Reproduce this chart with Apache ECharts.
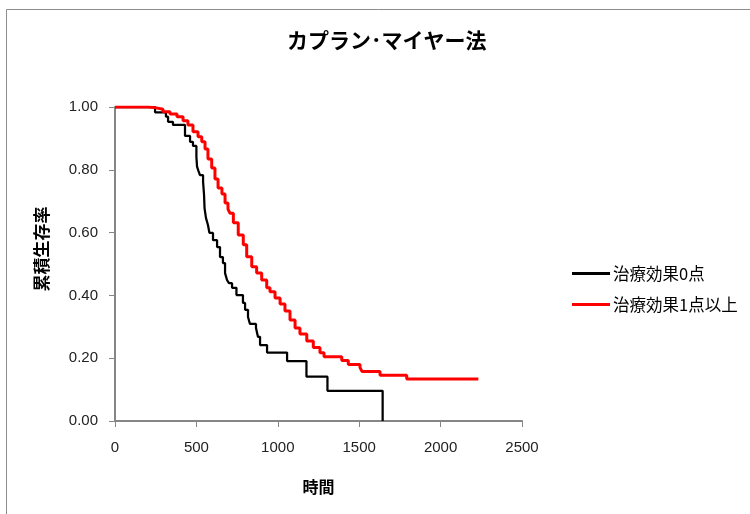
<!DOCTYPE html>
<html>
<head>
<meta charset="utf-8">
<script src="https://cdn.jsdelivr.net/npm/echarts@6/dist/echarts.min.js"></script>
<style>
  html, body { margin: 0; padding: 0; background: #fff; }
  #chart { width: 750px; height: 514px; }
</style>
</head>
<body>
<div id="chart"></div>
<script>
// Kaplan–Meier survival estimates: event times and survival after each event
const group0Times = [0, 246, 313, 326, 356, 430, 461, 479, 500, 504, 513, 522, 541, 547, 550, 559, 571, 580, 602, 627, 645, 663, 676, 688, 700, 719, 746, 786, 799, 817, 829, 866, 878, 891, 934, 1057, 1176, 1305, 1644];
const group0Surv  = [1.000, 0.983, 0.969, 0.953, 0.943, 0.908, 0.889, 0.876, 0.841, 0.810, 0.796, 0.783, 0.762, 0.720, 0.678, 0.646, 0.624, 0.599, 0.576, 0.554, 0.522, 0.503, 0.471, 0.449, 0.439, 0.424, 0.401, 0.376, 0.354, 0.331, 0.309, 0.296, 0.268, 0.242, 0.218, 0.191, 0.141, 0.096, 0.000];

const group1Times = [0, 203, 246, 295, 338, 381, 418, 448, 479, 510, 533, 553, 571, 594, 614, 633, 657, 676, 694, 706, 727, 757, 788, 809, 840, 870, 901, 932, 952, 983, 1014, 1044, 1075, 1106, 1136, 1178, 1218, 1259, 1284, 1393, 1433, 1505, 1517, 1628, 1792, 2232];
const group1Surv  = [1.000, 0.998, 0.993, 0.985, 0.978, 0.969, 0.956, 0.943, 0.921, 0.905, 0.889, 0.866, 0.834, 0.806, 0.771, 0.742, 0.723, 0.694, 0.675, 0.662, 0.631, 0.592, 0.561, 0.523, 0.491, 0.471, 0.449, 0.424, 0.412, 0.392, 0.373, 0.350, 0.322, 0.296, 0.277, 0.255, 0.234, 0.217, 0.205, 0.193, 0.180, 0.170, 0.158, 0.146, 0.134, 0.134];

const xTicks = { min: 0, max: 2500, step: 500 };
const yTicks = { min: 0, max: 1, step: 0.2 };

const seriesNames = ['治療効果0点', '治療効果1点以上'];

function pairs(ts, ss) { return ts.map((t, i) => [t, ss[i]]); }

const chart = echarts.init(document.getElementById('chart'), null, { renderer: 'canvas' });

const axisGray = '#868686';
const labelFont = '"Liberation Sans", Arial, sans-serif';
const jpFont = '"Noto Sans CJK JP", sans-serif';

chart.setOption({
  backgroundColor: '#ffffff',
  animation: false,
  graphic: [{
    type: 'rect',
    shape: { x: 6.5, y: 9.5, width: 900, height: 700 },
    style: { fill: 'none', stroke: '#8c8c8c', lineWidth: 1 },
    silent: true,
    z: -10
  }],
  title: {
    text: 'カプラン･マイヤー法',
    left: 282,
    top: 25,
    textStyle: { fontFamily: jpFont, fontWeight: 'bold', fontSize: 21, color: '#000' }
  },
  legend: {
    orient: 'vertical',
    left: 567,
    top: 258,
    icon: 'rect',
    itemWidth: 38,
    itemHeight: 3,
    itemGap: 10,
    textStyle: { fontFamily: jpFont, fontSize: 16.5, color: '#000', lineHeight: 21, padding: [0, 0, 0, -2] },
    data: seriesNames
  },
  grid: { left: 115, right: 228, top: 107, bottom: 93, containLabel: false },
  xAxis: {
    type: 'value',
    min: xTicks.min, max: xTicks.max, interval: xTicks.step,
    name: '時間',
    nameLocation: 'middle',
    nameGap: 58,
    nameTextStyle: { fontFamily: jpFont, fontWeight: 'bold', fontSize: 16, color: '#000' },
    axisLine: { show: true, lineStyle: { color: axisGray, width: 2 } },
    axisTick: { show: true, inside: false, length: 6, lineStyle: { color: axisGray, width: 1 } },
    axisLabel: { fontFamily: labelFont, fontSize: 15, color: '#222', margin: 19, formatter: v => String(v) },
    splitLine: { show: false }
  },
  yAxis: {
    type: 'value',
    min: yTicks.min, max: yTicks.max, interval: yTicks.step,
    name: '累積生存率',
    nameLocation: 'middle',
    nameRotate: 90,
    nameGap: 65,
    nameTextStyle: { fontFamily: jpFont, fontWeight: 'bold', fontSize: 17, color: '#000', padding: [0, 0, 0, 30] },
    axisLine: { show: true, onZero: false, lineStyle: { color: axisGray, width: 2 } },
    axisTick: { show: true, inside: false, length: 6, lineStyle: { color: axisGray, width: 1 } },
    axisLabel: { fontFamily: labelFont, fontSize: 15, color: '#222', margin: 17, formatter: v => v.toFixed(2) },
    splitLine: { show: false }
  },
  series: [
    {
      name: seriesNames[0],
      type: 'line',
      step: 'end',
      symbol: 'none',
      data: pairs(group0Times, group0Surv),
      lineStyle: { color: '#000000', width: 2.25 },
      itemStyle: { color: '#000000' },
      z: 3
    },
    {
      name: seriesNames[1],
      type: 'line',
      step: 'end',
      symbol: 'none',
      data: pairs(group1Times, group1Surv),
      lineStyle: { color: '#ff0000', width: 3 },
      itemStyle: { color: '#ff0000' },
      z: 4
    }
  ]
});
</script>
</body>
</html>
